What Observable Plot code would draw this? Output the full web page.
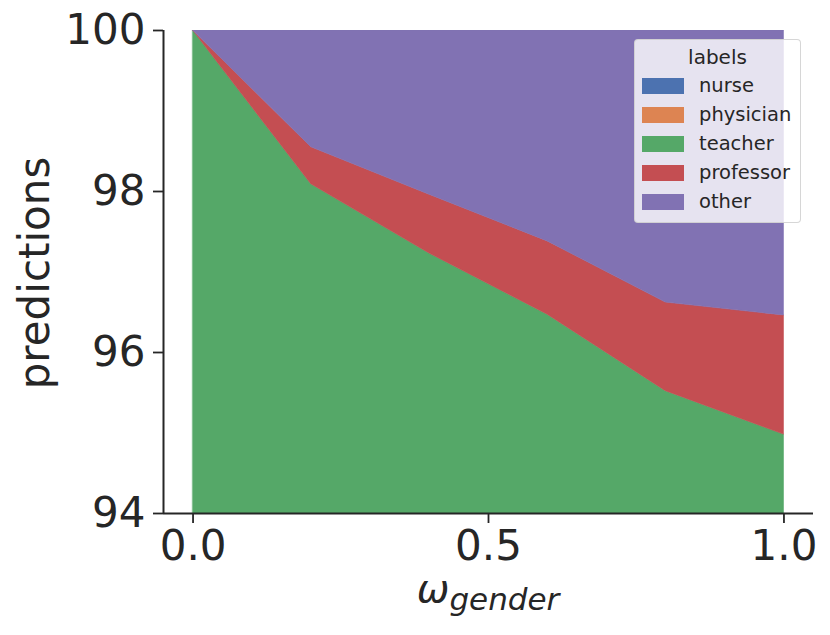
<!DOCTYPE html>
<html>
<head>
<meta charset="utf-8">
<script src="https://cdn.jsdelivr.net/npm/d3@7"></script>
<script src="https://cdn.jsdelivr.net/npm/@observablehq/plot@0.6"></script>
<style>
  html, body { margin: 0; padding: 0; background: #fff; }
  #wrap { position: relative; width: 830px; height: 635px; font-family: "DejaVu Sans", sans-serif; color: #262626; }
  #legend { position: absolute; left: 634px; top: 39px; width: 167px; height: 184px; box-sizing: border-box;
    background: rgba(255,255,255,0.8); border: 1px solid rgba(204,204,204,0.8); border-radius: 4px; }
  #legend .title { position: absolute; left: 0; width: 100%; top: 17px; text-align: center; font-size: 20px; line-height: 20px; transform: translateY(-50%); }
  #legend .item { position: absolute; left: 0; height: 20px; width: 100%; }
  #legend .sw { position: absolute; left: 7px; top: 2px; width: 42px; height: 16px; }
  #legend .lb { position: absolute; left: 64px; top: 0; font-size: 19.5px; line-height: 20px; }
  #xlabel { position: absolute; left: 163px; width: 650px; top: 570px; text-align: center; font-style: italic; font-size: 39px; line-height: 38px; }
  #xlabel sub { font-size: 31px; vertical-align: -8px; line-height: 0; }
</style>
</head>
<body>
<div id="wrap"></div>
<script>
const xs = [0, 0.2, 0.4, 0.6, 0.8, 1.0];
const labels = ["nurse", "physician", "teacher", "professor", "other"];
const colors = ["#4C72B0", "#DD8452", "#55A868", "#C44E52", "#8172B3"];
const nurse = [0, 0, 0, 0, 0, 0];
const physician = [0, 0, 0, 0, 0, 0];
const teacher = [100, 98.09, 97.23, 96.47, 95.52, 94.98];
const professor = [0, 0.46, 0.73, 0.91, 1.10, 1.48];
const other = [0, 1.45, 2.04, 2.62, 3.38, 3.54];
const yTicks = [94, 96, 98, 100];
const xTicks = [0, 0.5, 1.0];

const series = {nurse, physician, teacher, professor, other};
const rows = [];
for (const lab of labels) xs.forEach((x, i) => rows.push({x, label: lab, value: series[lab][i]}));

const ink = "#262626";
const chart = Plot.plot({
  width: 830, height: 635,
  marginLeft: 163, marginRight: 17, marginTop: 30, marginBottom: 122,
  style: {fontFamily: "DejaVu Sans, sans-serif", color: ink, background: "white"},
  x: {domain: [-0.05, 1.05]},
  y: {domain: [94, 100]},
  color: {domain: labels, range: colors},
  marks: [
    Plot.areaY(rows, {x: "x", y: "value", z: "label", fill: "label", stroke: "label", strokeWidth: 0.6, clip: true}),
    Plot.axisX({ticks: xTicks, tickFormat: d3.format(".1f"), fontSize: 42, tickSize: 10, tickPadding: 7, strokeWidth: 1.8, stroke: ink, label: null}),
    Plot.axisY({ticks: yTicks, tickFormat: d => String(d), fontSize: 42, tickSize: 10, tickPadding: 8, strokeWidth: 1.8, stroke: ink, label: null}),
    Plot.ruleY([94], {x1: -0.05, x2: 1.05, stroke: ink, strokeWidth: 2}),
    Plot.ruleX([-0.05], {y1: 94, y2: 100, stroke: ink, strokeWidth: 2}),
    Plot.text(["predictions"], {frameAnchor: "left", dx: -128, dy: 1, rotate: -90, fontSize: 42, fill: ink, textAnchor: "middle", lineAnchor: "middle"})
  ]
});
const wrap = document.getElementById("wrap");
wrap.appendChild(chart);

const xl = document.createElement("div");
xl.id = "xlabel";
xl.innerHTML = "ω<sub>gender</sub>";
wrap.appendChild(xl);

const lg = document.createElement("div");
lg.id = "legend";
let html = '<div class="title">labels</div>';
labels.forEach((lab, i) => {
  const top = 47 + 29 * i - 10 - 1;
  html += `<div class="item" style="top:${top}px"><div class="sw" style="background:${colors[i]}"></div><div class="lb">${lab}</div></div>`;
});
lg.innerHTML = html;
wrap.appendChild(lg);
</script>
</body>
</html>
